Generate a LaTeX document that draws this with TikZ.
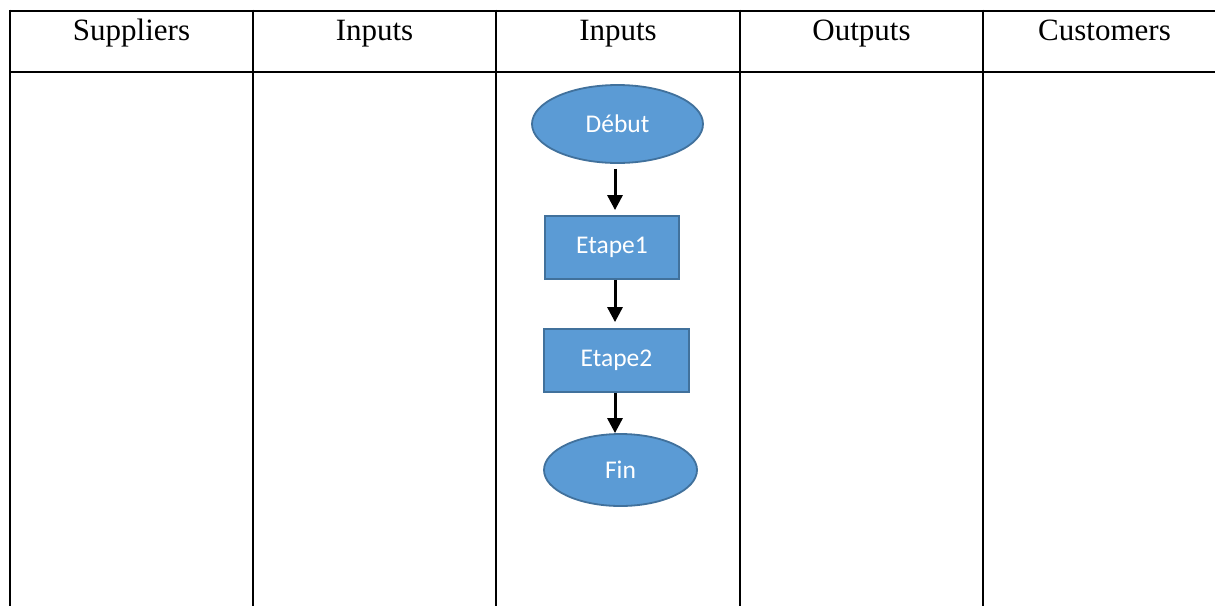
\documentclass[tikz,border=0pt]{standalone}
\usepackage{fontspec}
\setmainfont{Liberation Serif}
\newfontfamily\calibri{Carlito}
\usetikzlibrary{shapes.geometric,arrows.meta}
\definecolor{boxfill}{HTML}{5B9BD5}
\definecolor{boxline}{HTML}{41719C}
\tikzset{
  grid/.style={line width=2.7pt, black},
  head/.style={anchor=base, inner sep=0pt, font=\fontsize{31}{36}\selectfont},
  flowbase/.style={fill=boxfill, draw=boxline, line width=1.8pt, text=white,
    inner sep=0pt, font=\calibri\fontsize{25.5}{30}\selectfont},
  terminal/.style={flowbase, ellipse},
  stepbox/.style={flowbase, rectangle},
  arr/.style={line width=3pt, -{Triangle[width=15pt,length=15pt]}},
}
\begin{document}
\begin{tikzpicture}[x=1pt, y=-1pt]
\useasboundingbox (0,0) rectangle (1215,606);
\fill[white] (0,0) rectangle (1215,606);

% table frame and column rules
\draw[grid] (10,11) -- (1215,11);
\draw[grid] (10,72) -- (1215,72);
\foreach \cx in {10,253,496,740,983}
  \draw[grid] (\cx,9.65) -- (\cx,606);

% column headings
\node[head] (h1) at (131.5,40) {Suppliers};
\node[head] (h2) at (374.5,40) {Inputs};
\node[head] (h3) at (618,40) {Inputs};
\node[head] (h4) at (861.5,40) {Outputs};
\node[head] (h5) at (1104.5,40) {Customers};

% process flow
\coordinate (ax) at (615,0);
\node[terminal, minimum width=171pt, minimum height=78pt] (debut) at (617.5,124) {Début};
\node[stepbox, minimum width=134pt, minimum height=63pt] (e1) at (612,247.5) {Etape1};
\node[stepbox, minimum width=145pt, minimum height=63pt] (e2) at (616.5,360.5) {Etape2};
\node[terminal, minimum width=153pt, minimum height=72pt] (fin) at (620.5,470) {Fin};

\draw[arr, shorten <=5pt, shorten >=5pt] (debut.south -| ax) -- (e1.north -| ax);
\draw[arr, shorten >=6pt] (e1.south -| ax) -- (e2.north -| ax);
\draw[arr] (e2.south -| ax) -- (fin.north -| ax);
\end{tikzpicture}
\end{document}
